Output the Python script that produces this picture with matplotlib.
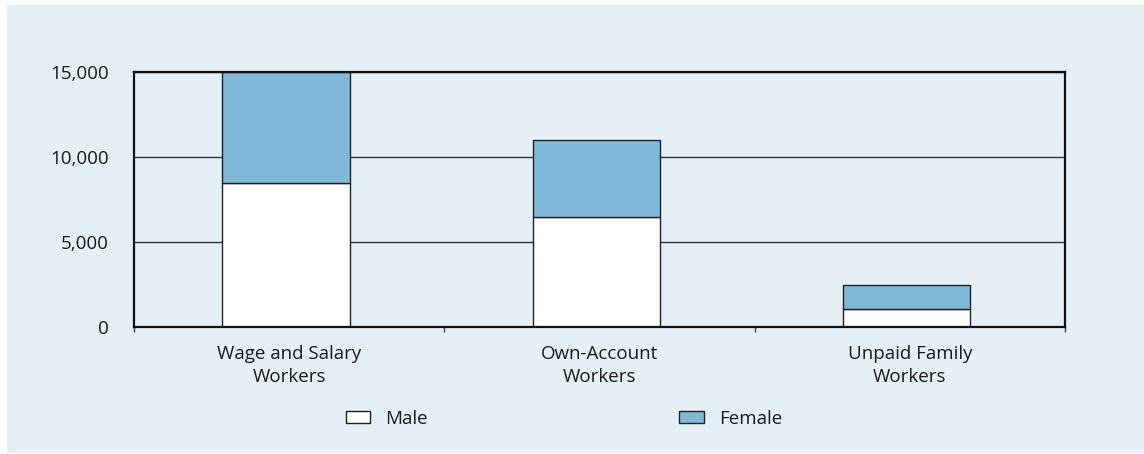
import matplotlib
matplotlib.use("Agg")
import matplotlib.pyplot as plt
from matplotlib.patches import Rectangle
from matplotlib.ticker import FuncFormatter
import numpy as np

categories = ["Wage and Salary\nWorkers", "Own-Account\nWorkers", "Unpaid Family\nWorkers"]
male = [8450, 6450, 1050]
female = [6550, 4550, 1400]
series_labels = ["Male", "Female"]
yticks = [0, 5000, 10000, 15000]

BG = "#E4EFF6"
FEMALE_C = "#80B9D8"
TXT = "#1a1a1a"
FS = 13.5

plt.rcParams['font.family'] = ['Open Sans', 'DejaVu Sans']

fig = plt.figure(figsize=(11.44, 4.54), dpi=100)
fig.patch.set_facecolor("white")
fig.patches.append(Rectangle((7/1144, 1/454), 1 - 7/1144, 448/454,
                             transform=fig.transFigure, facecolor=BG,
                             edgecolor="none", zorder=-10))

ax = fig.add_axes([134/1144, 127.3/454, 931/1144, 255/454])
ax.set_facecolor(BG)

x = np.arange(len(categories)) - 0.01
w = 0.41
b1 = ax.bar(x, male, width=w, color="white", edgecolor="#222222", linewidth=1.0,
            zorder=3, label=series_labels[0])
b2 = ax.bar(x, female, width=w, bottom=male, color=FEMALE_C, edgecolor="#222222",
            linewidth=1.0, zorder=3, label=series_labels[1])

ax.set_xlim(-0.5, len(categories) - 0.5)
ax.set_ylim(0, 15000)
ax.set_yticks(yticks)
ax.yaxis.set_major_formatter(FuncFormatter(lambda v, p: f"{int(v):,}"))
ax.tick_params(axis="y", length=0, pad=18, labelsize=FS, labelcolor=TXT)
ax.grid(axis="y", color="#333333", linewidth=1.0, zorder=1)
ax.set_axisbelow(True)

ax.set_xticks(np.arange(len(categories)))
ax.set_xticklabels(categories, fontsize=FS, color=TXT, linespacing=1.3)
ax.tick_params(axis="x", which="major", length=0, pad=13.5)
ax.set_xticks(np.arange(len(categories) + 1) - 0.5, minor=True)
ax.tick_params(axis="x", which="minor", length=3.5, width=1.0, direction="out", color="#444444")

for s in ax.spines.values():
    s.set_linewidth(1.6)
    s.set_color("#111111")
    s.set_zorder(4)

leg = fig.legend(handles=[b1, b2], labels=series_labels, loc="center",
                 bbox_to_anchor=(564/1144, 35/454), ncol=2, frameon=False,
                 fontsize=FS, handlelength=1.33, handleheight=0.59,
                 handletextpad=0.8, columnspacing=13.4, labelcolor=TXT)

fig.savefig("out.png", dpi=100, facecolor=fig.get_facecolor())
